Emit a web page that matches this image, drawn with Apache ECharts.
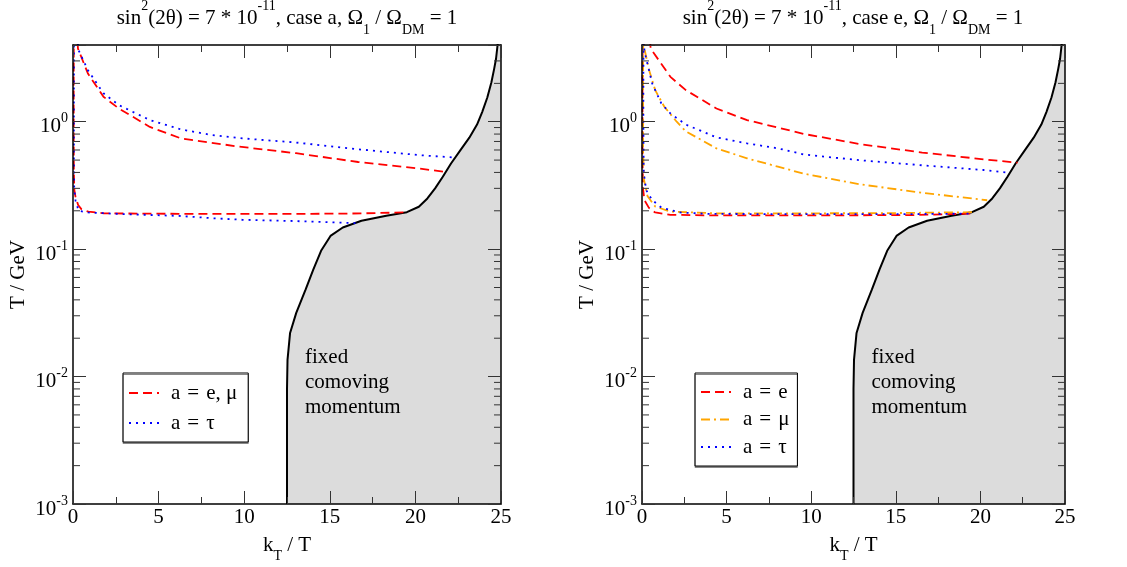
<!DOCTYPE html>
<html><head><meta charset="utf-8">
<script src="https://cdn.jsdelivr.net/npm/echarts@6/dist/echarts.min.js"></script>
<style>html,body{margin:0;padding:0;background:#fff}#c{width:1127px;height:567px}</style>
</head><body><div id="c"></div>
<script>
// ---------- data (x = k_T / T, y = T / GeV) ----------
const xTicks = [0, 5, 10, 15, 20, 25];
const yDecades = [-3, -2, -1, 0];
const minorY = [0.002,0.003,0.004,0.005,0.006,0.007,0.008,0.009,
                0.02,0.03,0.04,0.05,0.06,0.07,0.08,0.09,
                0.2,0.3,0.4,0.5,0.6,0.7,0.8,0.9, 2, 3];

// boundary of the "fixed comoving momentum" region
const boundary = [[12.5,0.001],[12.5,0.008],[12.53,0.0135],[12.68,0.022],[13.04,0.0316],[13.59,0.0483],
  [14.04,0.0695],[14.49,0.097],[15.04,0.127],[15.76,0.148],[16.85,0.167],[18.3,0.183],[19.5,0.195],
  [20.2,0.215],[20.7,0.25],[21.15,0.30],[21.6,0.37],[22.08,0.47],[22.6,0.59],[23.15,0.75],[23.6,0.95],
  [23.9,1.19],[24.2,1.55],[24.44,2.04],[24.6,2.6],[24.71,3.12],[24.8,4.0],[25,6]];

// legend / series names
const nameEMu = 'a\u2004=\u2004e, μ';
const nameE = 'a\u2004=\u2004e';
const nameMu = 'a\u2004=\u2004μ';
const nameTau = 'a\u2004=\u2004τ';

// left panel (case a)
const leftEMu = [[19.3,0.194],[16,0.19],[12,0.189],[8,0.189],[4,0.19],[1.8,0.191],[0.9,0.197],[0.5,0.205],
  [0.3,0.222],[0.14,0.26],[0.08,0.29],[0.05,0.4],[0.04,0.8],[0.04,2],[0.05,6],[0.2,6],
  [0.29,3.75],[0.87,2.39],[1.78,1.57],[2.68,1.27],[4.49,0.91],[6.3,0.74],[9.6,0.64],[13.03,0.566],
  [16.65,0.483],[20.27,0.428],[21.8,0.403]];
const leftTau = [[16.5,0.16],[13,0.166],[9.9,0.170],[8.1,0.175],[6.3,0.182],[2.68,0.189],[0.87,0.194],
  [0.33,0.2],[0.15,0.24],[0.07,0.3],[0.05,0.5],[0.05,2],[0.06,6],[0.22,6],
  [0.3,3.7],[0.87,2.54],[1.78,1.67],[2.68,1.35],[4.49,1.03],[6.3,0.87],[8.1,0.787],[9.9,0.74],
  [13.03,0.687],[16.65,0.608],[20.27,0.546],[22.35,0.523]];

// right panel (case e)
const rightE = [[19.4,0.19],[16,0.185],[10,0.184],[4,0.184],[1.68,0.186],[0.78,0.194],[0.42,0.21],
  [0.14,0.243],[0.06,0.3],[0.03,0.5],[0.03,2],[0.04,6],[0.4,6],
  [0.51,3.75],[1.68,2.25],[2.59,1.77],[4.4,1.27],[6.21,1.03],[8.03,0.90],[9.6,0.80],[12.93,0.666],
  [16.56,0.573],[20.18,0.507],[22.2,0.477]];
const rightMu = [[19.5,0.195],[15,0.192],[10,0.191],[4.4,0.191],[1.68,0.197],[0.78,0.216],[0.33,0.26],
  [0.12,0.35],[0.06,0.6],[0.06,2],[0.08,6],[0.12,6],
  [0.14,3.75],[0.42,2.54],[0.78,1.77],[1.32,1.31],[2.05,1.0],[2.59,0.84],[4.4,0.618],[6.21,0.516],
  [8.03,0.444],[9.6,0.39],[12.93,0.322],[16.56,0.277],[20.4,0.242]];
const rightTau = [[19.3,0.19],[15,0.188],[10,0.188],[4,0.189],[2.23,0.194],[1.14,0.212],[0.6,0.243],
  [0.25,0.29],[0.1,0.4],[0.08,1],[0.08,2.5],[0.1,6],
  [0.14,3.6],[0.6,2.0],[1.14,1.39],[1.68,1.16],[2.59,0.95],[4.4,0.754],[6.21,0.676],[8.03,0.618],
  [9.6,0.552],[12.93,0.498],[16.56,0.455],[20.18,0.418],[21.7,0.398]];

// ---------- styling ----------
const FONT = 'Liberation Serif';
const RED = '#ff0000', BLUE = '#0000ff', ORANGE = '#ffa500';
const DASH = [9, 5], DOT = [2, 5], DASHDOT = [9, 4, 2, 4];

const chart = echarts.init(document.getElementById('c'), null, {renderer: 'canvas'});

const grids = [
  {left: 73, top: 45, width: 428, height: 459, outerBoundsMode: 'none', containLabel: false},
  {left: 642, top: 45, width: 423, height: 459, outerBoundsMode: 'none', containLabel: false}
];

function xAx(gi, pos, labels) {
  return {
    type: 'value', gridIndex: gi, position: pos, min: xTicks[0], max: xTicks[xTicks.length-1], interval: 5,
    z: 5,
    axisLine: {show: true, onZero: false, lineStyle: {color: '#000', width: 1.5}},
    axisTick: {show: true, inside: true, length: 13, lineStyle: {color: '#333', width: 1}},
    minorTick: {show: true, splitNumber: 2, length: 7, lineStyle: {color: '#333', width: 1}},
    splitLine: {show: false}, minorSplitLine: {show: false},
    axisLabel: {show: labels, fontFamily: FONT, fontSize: 21, color: '#000', margin: 3},
    name: labels ? '{b|k}{sub|T}{b| / T}' : '', nameLocation: 'middle', nameGap: 23,
    nameTextStyle: {rich: {
      b: {fontFamily: FONT, fontSize: 21, color: '#000', lineHeight: 36},
      sub: {fontFamily: FONT, fontSize: 14, color: '#000', verticalAlign: 'bottom', lineHeight: 14}
    }}
  };
}
function yAx(gi, pos, labels) {
  return {
    type: 'log', logBase: 10, gridIndex: gi, position: pos, min: 0.001, max: 4, z: 5,
    axisLine: {show: true, onZero: false, lineStyle: {color: '#000', width: 1.5}},
    axisTick: {show: true, inside: true, length: 13, lineStyle: {color: '#333', width: 1}},
    minorTick: {show: false}, splitLine: {show: false},
    axisLabel: {show: labels, margin: 5, padding: [10, 0, 0, 0],
      formatter: function (v) {
        const l = Math.log10(v), e = Math.round(l);
        if (Math.abs(l - e) > 1e-6 || yDecades.indexOf(e) < 0) return '';
        return '{b|10}{s|' + e + '}';
      },
      rich: {
        b: {fontFamily: FONT, fontSize: 21, color: '#000', lineHeight: 30},
        s: {fontFamily: FONT, fontSize: 14, color: '#000', verticalAlign: 'top', lineHeight: 12}
      }
    },
    name: labels ? 'T / GeV' : '', nameLocation: 'middle', nameGap: 44,
    nameTextStyle: {fontFamily: FONT, fontSize: 21, color: '#000'}
  };
}

function curve(name, data, color, type, xi, yi) {
  return {type: 'line', name: name, data: data, xAxisIndex: xi, yAxisIndex: yi, symbol: 'none',
    smooth: false, clip: true, z: 3,
    lineStyle: {color: color, width: 1.8, type: type}, itemStyle: {color: color}};
}
function area(data, xi, yi) {
  return {type: 'line', data: data, xAxisIndex: xi, yAxisIndex: yi, symbol: 'none', clip: true, z: 2,
    lineStyle: {color: '#000', width: 2}, areaStyle: {color: '#dcdcdc', opacity: 1, origin: 'start'},
    silent: true};
}
function minorTicks(xi, yi) {
  return {type: 'custom', xAxisIndex: xi, yAxisIndex: yi, z: 6, silent: true,
    data: minorY.map(v => [0, v]),
    renderItem: function (params, api) {
      const v = api.value(1);
      const pl = api.coord([0, v]), pr = api.coord([25, v]);
      const st = {stroke: '#333', lineWidth: 1};
      return {type: 'group', children: [
        {type: 'line', shape: {x1: pl[0], y1: pl[1], x2: pl[0] + 7, y2: pl[1]}, style: st},
        {type: 'line', shape: {x1: pr[0] - 7, y1: pr[1], x2: pr[0], y2: pr[1]}, style: st}
      ]};
    }};
}

const titleRich = {
  b: {fontFamily: FONT, fontSize: 21, fill: '#000', lineHeight: 38},
  sup: {fontFamily: FONT, fontSize: 14, fill: '#000', verticalAlign: 'top', lineHeight: 14},
  sub: {fontFamily: FONT, fontSize: 14, fill: '#000', verticalAlign: 'bottom', lineHeight: 24}
};
function titleText(caseName) {
  return '{b|sin}{sup|2}{b|(2θ) = 7 * 10}{sup|-11}{b|, case ' + caseName + ', Ω}{sub|1}{b| / Ω}{sub|DM}{b| = 1}';
}

const legendBase = {
  orient: 'vertical', selectedMode: false, borderColor: '#000', borderWidth: 1,
  backgroundColor: '#fff', shadowColor: '#888', shadowOffsetY: 1.5, shadowBlur: 0,
  itemWidth: 30, itemHeight: 14, itemStyle: {opacity: 0},
  textStyle: {fontFamily: FONT, fontSize: 21, color: '#000', lineHeight: 22, padding: [0, 0, 0, 7]}
};

chart.setOption({
  animation: false,
  backgroundColor: '#fff',
  grid: grids,
  xAxis: [xAx(0, 'bottom', true), xAx(0, 'top', false), xAx(1, 'bottom', true), xAx(1, 'top', false)],
  yAxis: [yAx(0, 'left', true), yAx(0, 'right', false), yAx(1, 'left', true), yAx(1, 'right', false)],
  legend: [
    Object.assign({}, legendBase, {left: 123, top: 373, padding: [9, 11, 8, 5], itemGap: 8,
      data: [nameEMu, nameTau]}),
    Object.assign({}, legendBase, {left: 695, top: 373, padding: [8, 8, 8, 5], itemGap: 5.5,
      data: [nameE, nameMu, nameTau]})
  ],
  graphic: [
    {type: 'text', x: 287, y: 18.5, style: {text: titleText('a'), rich: titleRich, align: 'center', verticalAlign: 'middle'}},
    {type: 'text', x: 853, y: 18.5, style: {text: titleText('e'), rich: titleRich, align: 'center', verticalAlign: 'middle'}},
    {type: 'text', x: 305, y: 344.5, z: 10, style: {text: 'fixed\ncomoving\nmomentum', fontFamily: FONT, fontSize: 21, lineHeight: 25, fill: '#000'}},
    {type: 'text', x: 871.5, y: 344.5, z: 10, style: {text: 'fixed\ncomoving\nmomentum', fontFamily: FONT, fontSize: 21, lineHeight: 25, fill: '#000'}}
  ],
  series: [
    area(boundary, 0, 0),
    curve(nameEMu, leftEMu, RED, DASH, 0, 0),
    curve(nameTau, leftTau, BLUE, DOT, 0, 0),
    minorTicks(0, 0),
    area(boundary, 2, 2),
    curve(nameE, rightE, RED, DASH, 2, 2),
    curve(nameMu, rightMu, ORANGE, DASHDOT, 2, 2),
    curve(nameTau, rightTau, BLUE, DOT, 2, 2),
    minorTicks(2, 2)
  ]
});
</script>
</body></html>
